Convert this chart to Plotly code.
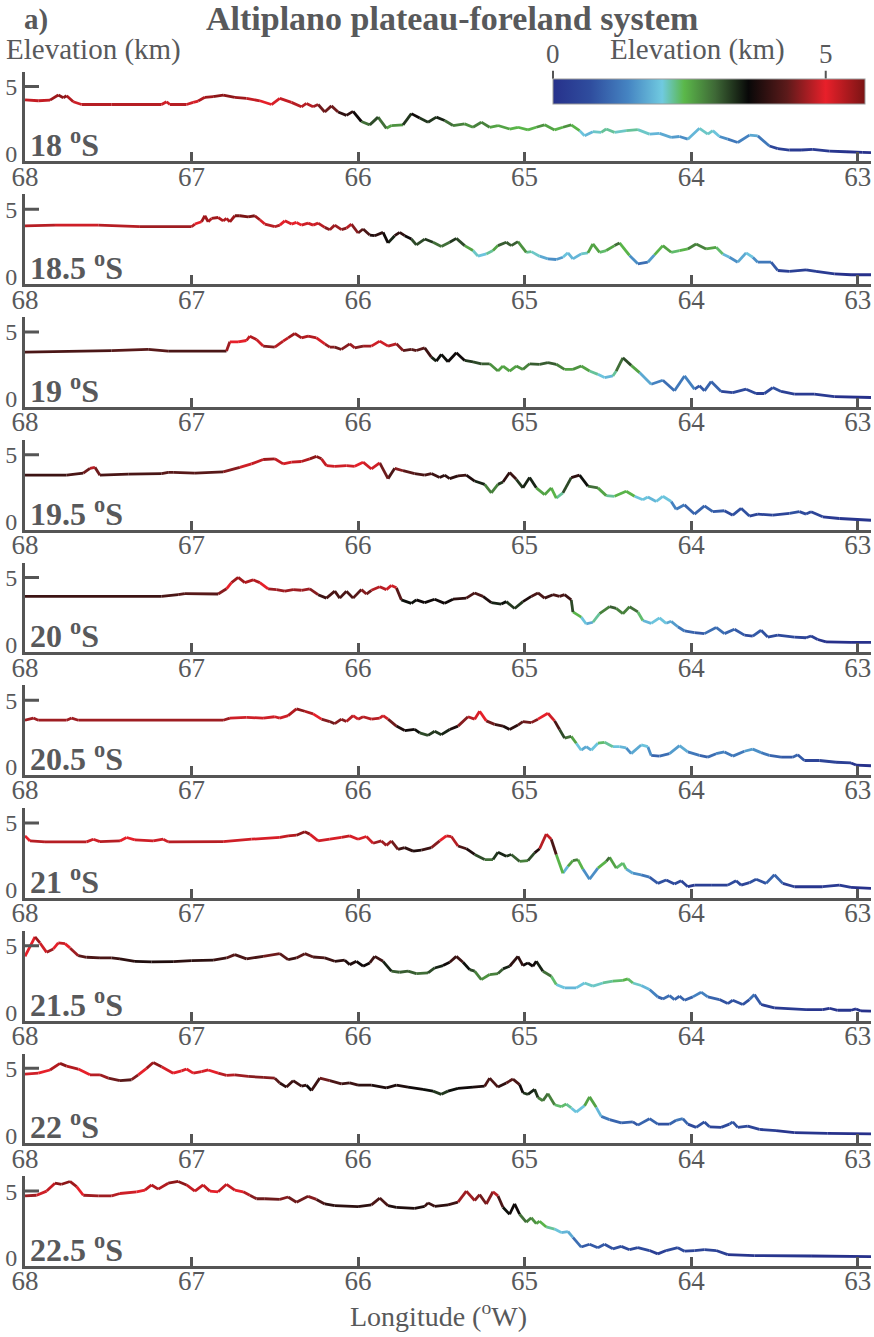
import plotly.graph_objects as go

# ---------------- data (longitude in deg W, elevation in km) ----------------
LATITUDES = ["18", "18.5", "19", "19.5", "20", "20.5", "21", "21.5", "22", "22.5"]
X_TICKS = [68, 67, 66, 65, 64, 63]
Y_TICKS = [0, 5]
CB_TICKS = [0, 5]

lon_18 = [68.00, 67.92, 67.85, 67.80, 67.77, 67.75, 67.71, 67.66, 67.48, 67.18,
          67.15, 67.13, 67.03, 66.99, 66.96, 66.92, 66.87, 66.81, 66.74, 66.67,
          66.59, 66.52, 66.47, 66.40, 66.34, 66.31, 66.27, 66.24, 66.20, 66.16,
          66.12, 66.07, 66.03, 65.98, 65.93, 65.88, 65.83, 65.80, 65.73, 65.68,
          65.63, 65.58, 65.53, 65.48, 65.43, 65.36, 65.31, 65.26, 65.21, 65.16,
          65.09, 65.04, 64.98, 64.93, 64.88, 64.82, 64.77, 64.72, 64.67, 64.64,
          64.59, 64.54, 64.51, 64.46, 64.39, 64.32, 64.25, 64.19, 64.12, 64.07,
          64.02, 63.95, 63.90, 63.87, 63.83, 63.78, 63.72, 63.65, 63.60, 63.53,
          63.48, 63.41, 63.34, 63.27, 63.17, 63.07, 62.97, 62.92]
elev_18 = [4.00, 3.93, 3.98, 4.36, 4.16, 4.31, 3.86, 3.65, 3.65, 3.65,
           3.86, 3.65, 3.65, 3.81, 3.91, 4.19, 4.24, 4.36, 4.19, 4.11,
           3.93, 3.65, 4.11, 3.81, 3.48, 3.73, 3.48, 3.65, 3.09, 3.55,
           3.09, 2.84, 3.14, 2.38, 2.13, 2.71, 1.87, 2.08, 2.13, 2.97,
           2.64, 2.33, 2.71, 2.46, 2.08, 2.20, 1.95, 2.33, 1.95, 2.08,
           1.82, 1.95, 1.75, 1.95, 2.13, 1.75, 1.95, 2.13, 1.70, 1.31,
           1.62, 1.57, 1.82, 1.57, 1.70, 1.77, 1.44, 1.49, 1.19, 1.26,
           1.06, 1.87, 1.44, 1.70, 1.26, 1.06, 0.81, 1.36, 1.31, 0.55,
           0.35, 0.25, 0.25, 0.30, 0.17, 0.12, 0.08, 0.06]

lon_185 = [68.00, 67.82, 67.56, 67.31, 67.00, 66.98, 66.94, 66.92, 66.90, 66.88,
           66.84, 66.81, 66.79, 66.77, 66.74, 66.71, 66.66, 66.62, 66.59, 66.56,
           66.50, 66.47, 66.44, 66.40, 66.37, 66.34, 66.30, 66.27, 66.24, 66.20,
           66.17, 66.14, 66.10, 66.07, 66.04, 66.00, 65.97, 65.93, 65.90, 65.85,
           65.82, 65.78, 65.75, 65.72, 65.68, 65.65, 65.60, 65.55, 65.50, 65.45,
           65.41, 65.36, 65.31, 65.28, 65.23, 65.19, 65.16, 65.11, 65.08, 65.04,
           64.99, 64.96, 64.91, 64.86, 64.81, 64.77, 64.74, 64.71, 64.66, 64.62,
           64.59, 64.55, 64.51, 64.46, 64.43, 64.37, 64.32, 64.26, 64.22, 64.17,
           64.12, 64.07, 64.02, 63.97, 63.91, 63.85, 63.81, 63.77, 63.72, 63.67,
           63.63, 63.60, 63.52, 63.48, 63.41, 63.31, 63.25, 63.14, 63.04, 62.92]
elev_185 = [3.76, 3.81, 3.81, 3.69, 3.69, 3.89, 4.06, 4.51, 4.06, 4.31,
            4.38, 4.13, 4.31, 4.06, 4.51, 4.51, 4.43, 4.51, 4.21, 3.89,
            3.69, 3.81, 4.13, 3.89, 4.01, 3.81, 3.96, 3.81, 3.96, 3.64,
            3.47, 3.81, 3.47, 3.59, 3.89, 3.22, 3.52, 3.07, 3.02, 3.27,
            2.48, 3.02, 3.27, 3.02, 2.77, 2.33, 2.77, 2.53, 2.21, 2.53,
            2.82, 2.28, 1.91, 1.49, 1.66, 1.91, 2.28, 2.53, 2.28, 2.58,
            1.78, 1.83, 1.49, 1.29, 1.24, 1.41, 1.74, 1.29, 1.66, 1.74,
            2.40, 1.78, 1.91, 2.28, 2.48, 1.54, 0.92, 1.04, 1.59, 2.28,
            1.78, 1.91, 2.03, 2.40, 2.03, 2.15, 1.66, 1.41, 1.04, 1.74,
            1.41, 1.04, 1.04, 0.42, 0.35, 0.47, 0.35, 0.17, 0.10, 0.10]

lon_19 = [68.00, 67.48, 67.26, 67.14, 66.79, 66.77, 66.72, 66.67, 66.65, 66.61,
          66.57, 66.50, 66.45, 66.42, 66.38, 66.34, 66.30, 66.25, 66.20, 66.17,
          66.14, 66.10, 66.05, 66.02, 65.97, 65.92, 65.87, 65.82, 65.77, 65.73,
          65.68, 65.65, 65.60, 65.56, 65.53, 65.50, 65.46, 65.41, 65.36, 65.31,
          65.26, 65.21, 65.16, 65.13, 65.09, 65.05, 65.01, 64.97, 64.91, 64.86,
          64.81, 64.76, 64.71, 64.66, 64.61, 64.56, 64.52, 64.47, 64.45, 64.41,
          64.36, 64.31, 64.24, 64.17, 64.10, 64.04, 63.98, 63.95, 63.92, 63.88,
          63.82, 63.75, 63.67, 63.61, 63.56, 63.51, 63.46, 63.38, 63.26, 63.14,
          62.92]
elev_19 = [3.49, 3.61, 3.69, 3.57, 3.57, 4.26, 4.26, 4.36, 4.68, 4.43,
           3.94, 3.86, 4.31, 4.56, 4.88, 4.56, 4.68, 4.56, 4.11, 3.86,
           3.86, 3.69, 4.11, 3.81, 3.94, 3.94, 4.31, 3.94, 4.11, 3.61,
           3.69, 3.61, 3.81, 3.12, 2.82, 3.32, 2.77, 3.44, 2.87, 2.77,
           2.62, 2.62, 2.08, 2.45, 2.08, 2.45, 2.20, 2.62, 2.58, 2.70,
           2.58, 2.20, 2.20, 2.45, 2.08, 1.83, 1.59, 1.71, 2.08, 3.07,
           2.50, 1.96, 1.09, 1.39, 0.60, 1.71, 0.72, 0.97, 0.60, 1.29,
           0.55, 0.47, 0.72, 0.40, 0.40, 0.84, 0.55, 0.35, 0.35, 0.17,
           0.10]

lon_195 = [68.00, 67.75, 67.65, 67.61, 67.58, 67.55, 67.38, 67.18, 67.14, 67.11,
           66.98, 66.81, 66.71, 66.64, 66.57, 66.50, 66.45, 66.40, 66.34, 66.29,
           66.25, 66.22, 66.19, 66.14, 66.07, 66.02, 65.97, 65.92, 65.87, 65.82,
           65.78, 65.73, 65.66, 65.60, 65.56, 65.51, 65.48, 65.45, 65.40, 65.35,
           65.30, 65.24, 65.20, 65.16, 65.13, 65.09, 65.05, 65.01, 64.97, 64.93,
           64.88, 64.84, 64.81, 64.77, 64.72, 64.67, 64.62, 64.56, 64.51, 64.46,
           64.39, 64.34, 64.29, 64.26, 64.21, 64.17, 64.12, 64.09, 64.04, 63.98,
           63.92, 63.87, 63.80, 63.75, 63.70, 63.65, 63.60, 63.51, 63.41, 63.35,
           63.31, 63.28, 63.21, 63.11, 62.92]
elev_195 = [3.47, 3.47, 3.62, 3.98, 4.05, 3.47, 3.54, 3.59, 3.67, 3.67,
            3.62, 3.72, 4.05, 4.31, 4.64, 4.69, 4.31, 4.44, 4.49, 4.69,
            4.87, 4.69, 4.18, 4.13, 4.18, 4.13, 4.44, 3.93, 4.39, 3.21,
            3.98, 3.80, 3.59, 3.47, 3.59, 3.29, 3.47, 3.21, 3.42, 3.47,
            3.03, 2.78, 2.14, 2.78, 2.96, 3.67, 3.16, 2.52, 3.29, 2.52,
            2.01, 2.52, 1.76, 2.14, 3.29, 3.47, 2.65, 2.52, 1.94, 1.89,
            2.27, 1.89, 1.63, 1.84, 1.50, 1.89, 1.50, 0.92, 1.25, 0.56,
            1.17, 0.74, 0.81, 0.48, 0.99, 0.41, 0.56, 0.48, 0.61, 0.74,
            0.56, 0.74, 0.36, 0.23, 0.10]

lon_20 = [68.00, 67.18, 67.08, 67.04, 66.84, 66.79, 66.76, 66.72, 66.68, 66.63,
          66.59, 66.54, 66.49, 66.44, 66.39, 66.34, 66.29, 66.24, 66.19, 66.14,
          66.11, 66.07, 66.03, 65.98, 65.95, 65.92, 65.87, 65.83, 65.80, 65.77,
          65.74, 65.68, 65.65, 65.60, 65.54, 65.48, 65.43, 65.35, 65.30, 65.25,
          65.20, 65.14, 65.11, 65.06, 65.01, 64.96, 64.92, 64.88, 64.83, 64.79,
          64.76, 64.72, 64.71, 64.66, 64.63, 64.59, 64.55, 64.49, 64.45, 64.41,
          64.37, 64.32, 64.29, 64.24, 64.19, 64.15, 64.12, 64.08, 64.04, 63.98,
          63.92, 63.85, 63.80, 63.74, 63.68, 63.63, 63.58, 63.54, 63.48, 63.38,
          63.31, 63.28, 63.24, 63.19, 63.04, 62.92]
elev_20 = [3.58, 3.58, 3.71, 3.79, 3.76, 4.15, 4.61, 5.00, 4.61, 4.82,
           4.61, 4.15, 4.09, 3.97, 4.09, 4.04, 4.15, 3.71, 3.45, 3.97,
           3.45, 3.97, 3.45, 4.09, 3.76, 4.04, 4.30, 4.09, 4.40, 4.22,
           3.32, 3.06, 3.32, 3.12, 3.37, 3.06, 3.37, 3.45, 3.84, 3.58,
           3.12, 3.01, 3.19, 2.68, 3.19, 3.58, 3.84, 3.45, 3.71, 3.58,
           3.71, 3.32, 2.42, 2.03, 1.52, 1.65, 2.29, 2.81, 2.68, 2.29,
           2.81, 2.42, 1.78, 1.57, 1.98, 1.57, 1.72, 1.31, 1.00, 0.87,
           0.80, 1.26, 0.80, 1.13, 0.69, 0.62, 1.05, 0.54, 0.69, 0.54,
           0.49, 0.62, 0.36, 0.18, 0.15, 0.15]

lon_205 = [68.00, 67.95, 67.92, 67.75, 67.72, 67.68, 66.81, 66.77, 66.67, 66.57,
           66.50, 66.47, 66.42, 66.37, 66.32, 66.27, 66.22, 66.17, 66.14, 66.10,
           66.07, 66.03, 66.00, 65.97, 65.92, 65.87, 65.85, 65.82, 65.77, 65.72,
           65.66, 65.63, 65.58, 65.54, 65.50, 65.45, 65.40, 65.34, 65.30, 65.27,
           65.23, 65.18, 65.13, 65.09, 65.04, 65.01, 64.96, 64.92, 64.86, 64.82,
           64.79, 64.76, 64.72, 64.69, 64.66, 64.63, 64.60, 64.56, 64.52, 64.47,
           64.43, 64.39, 64.36, 64.30, 64.26, 64.24, 64.19, 64.13, 64.07, 64.02,
           63.95, 63.90, 63.85, 63.80, 63.75, 63.68, 63.63, 63.58, 63.53, 63.46,
           63.39, 63.36, 63.32, 63.23, 63.13, 63.04, 63.01, 62.92]
elev_205 = [3.50, 3.66, 3.50, 3.50, 3.66, 3.50, 3.50, 3.66, 3.71, 3.66,
            3.76, 3.66, 3.84, 4.35, 4.17, 3.97, 3.58, 3.40, 3.24, 3.58,
            3.40, 3.84, 3.58, 3.76, 3.58, 3.66, 3.84, 3.58, 3.06, 2.73,
            2.81, 2.55, 2.37, 2.68, 2.42, 2.81, 3.06, 3.76, 3.58, 4.17,
            3.45, 3.19, 3.06, 2.81, 3.14, 3.40, 3.32, 3.58, 4.02, 3.45,
            2.81, 2.16, 2.29, 1.78, 1.26, 1.52, 1.26, 1.78, 1.85, 1.52,
            1.52, 1.44, 1.00, 1.65, 1.52, 0.87, 0.82, 1.00, 1.60, 1.13,
            0.87, 0.74, 1.00, 1.13, 0.82, 1.18, 1.34, 1.08, 0.87, 0.74,
            0.74, 0.92, 0.49, 0.49, 0.36, 0.31, 0.15, 0.10]

lon_21 = [68.00, 67.97, 67.88, 67.63, 67.59, 67.55, 67.43, 67.39, 67.34, 67.23,
          67.17, 67.14, 66.81, 66.64, 66.47, 66.42, 66.37, 66.32, 66.29, 66.24,
          66.17, 66.10, 66.05, 66.00, 65.95, 65.91, 65.86, 65.83, 65.80, 65.76,
          65.72, 65.67, 65.62, 65.56, 65.51, 65.47, 65.44, 65.40, 65.35, 65.30,
          65.24, 65.19, 65.16, 65.11, 65.08, 65.03, 64.98, 64.94, 64.91, 64.87,
          64.84, 64.81, 64.77, 64.74, 64.71, 64.68, 64.65, 64.61, 64.56, 64.51,
          64.49, 64.45, 64.41, 64.39, 64.35, 64.30, 64.25, 64.20, 64.15, 64.10,
          64.06, 64.02, 63.98, 63.88, 63.78, 63.73, 63.70, 63.65, 63.61, 63.55,
          63.50, 63.45, 63.38, 63.21, 63.11, 63.04, 62.92]
elev_21 = [4.03, 3.65, 3.58, 3.58, 3.78, 3.60, 3.65, 3.91, 3.73, 3.65,
           3.78, 3.58, 3.60, 3.78, 3.91, 4.03, 4.08, 4.34, 4.16, 3.65,
           3.78, 3.91, 4.03, 3.78, 3.98, 3.48, 3.65, 3.32, 3.65, 3.02,
           3.15, 2.89, 2.97, 3.15, 3.65, 4.03, 3.98, 3.27, 3.07, 2.64,
           2.26, 2.26, 2.81, 2.51, 2.64, 2.13, 2.18, 2.76, 3.07, 4.16,
           3.78, 2.64, 1.24, 1.75, 2.18, 2.26, 1.55, 0.79, 1.62, 2.13,
           2.43, 1.62, 2.00, 1.55, 1.24, 1.12, 0.94, 0.48, 0.73, 0.43,
           0.68, 0.23, 0.35, 0.35, 0.35, 0.68, 0.35, 0.53, 0.79, 0.48,
           1.12, 0.48, 0.23, 0.23, 0.35, 0.18, 0.10]

lon_215 = [68.00, 67.94, 67.91, 67.87, 67.83, 67.80, 67.76, 67.73, 67.68, 67.63,
           67.55, 67.48, 67.43, 67.34, 67.24, 67.11, 67.00, 66.87, 66.79, 66.74,
           66.67, 66.57, 66.47, 66.42, 66.37, 66.32, 66.27, 66.20, 66.14, 66.08,
           66.05, 66.01, 65.97, 65.93, 65.90, 65.85, 65.80, 65.75, 65.70, 65.65,
           65.58, 65.54, 65.49, 65.45, 65.41, 65.37, 65.33, 65.30, 65.26, 65.21,
           65.16, 65.13, 65.09, 65.04, 65.01, 64.98, 64.95, 64.93, 64.89, 64.84,
           64.81, 64.76, 64.69, 64.64, 64.59, 64.53, 64.47, 64.41, 64.38, 64.35,
           64.30, 64.25, 64.20, 64.17, 64.13, 64.10, 64.07, 64.04, 63.99, 63.94,
           63.90, 63.83, 63.78, 63.75, 63.69, 63.65, 63.62, 63.58, 63.50, 63.31,
           63.21, 63.17, 63.12, 63.04, 63.01, 62.98, 62.92]
elev_215 = [4.20, 5.65, 5.20, 4.50, 4.75, 5.20, 5.15, 4.83, 4.25, 4.13,
            4.08, 4.08, 4.01, 3.83, 3.78, 3.81, 3.88, 3.91, 4.08, 4.33,
            4.01, 4.20, 4.40, 3.96, 4.08, 4.40, 4.15, 4.08, 3.83, 3.91,
            3.58, 3.83, 3.46, 3.71, 4.20, 3.83, 3.09, 3.01, 3.09, 2.91,
            2.96, 3.33, 3.51, 3.76, 4.20, 3.76, 3.21, 3.09, 2.46, 2.84,
            2.91, 3.26, 3.46, 4.20, 3.51, 3.71, 3.46, 3.83, 3.09, 2.71,
            2.09, 1.84, 1.84, 2.21, 1.97, 2.21, 2.34, 2.41, 2.51, 2.21,
            2.02, 1.72, 1.17, 1.02, 1.27, 0.97, 1.22, 0.92, 1.17, 1.52,
            1.17, 0.97, 0.67, 0.92, 0.60, 0.97, 1.34, 0.60, 0.35, 0.22,
            0.22, 0.32, 0.17, 0.17, 0.27, 0.12, 0.10]

lon_22 = [68.00, 67.92, 67.85, 67.79, 67.75, 67.68, 67.61, 67.55, 67.50, 67.43,
          67.36, 67.32, 67.27, 67.23, 67.18, 67.11, 67.06, 67.03, 66.99, 66.94,
          66.90, 66.84, 66.79, 66.74, 66.66, 66.57, 66.50, 66.47, 66.43, 66.39,
          66.34, 66.31, 66.28, 66.23, 66.17, 66.10, 66.05, 66.00, 65.92, 65.83,
          65.77, 65.70, 65.61, 65.55, 65.50, 65.46, 65.40, 65.31, 65.24, 65.21,
          65.16, 65.11, 65.07, 65.03, 65.01, 64.98, 64.94, 64.92, 64.89, 64.86,
          64.82, 64.78, 64.75, 64.72, 64.69, 64.64, 64.61, 64.57, 64.54, 64.49,
          64.42, 64.35, 64.32, 64.25, 64.20, 64.13, 64.09, 64.05, 64.02, 63.97,
          63.92, 63.89, 63.82, 63.77, 63.75, 63.72, 63.66, 63.59, 63.49, 63.38,
          63.18, 62.92]
elev_22 = [4.57, 4.64, 4.88, 5.37, 5.17, 4.95, 4.52, 4.52, 4.27, 4.08,
           4.15, 4.52, 5.00, 5.44, 5.12, 4.64, 4.81, 4.95, 4.64, 4.76,
           4.88, 4.64, 4.47, 4.52, 4.40, 4.32, 4.27, 3.91, 3.60, 4.08,
           3.67, 3.74, 3.35, 4.27, 4.08, 3.84, 3.91, 3.74, 3.74, 3.55,
           3.74, 3.60, 3.43, 3.30, 3.06, 3.30, 3.50, 3.60, 3.67, 4.27,
           3.60, 3.91, 4.20, 3.79, 3.18, 3.06, 3.43, 2.82, 2.58, 3.11,
           2.28, 2.14, 2.33, 2.04, 1.73, 2.21, 2.87, 2.09, 1.41, 1.17,
           0.93, 1.00, 0.76, 1.24, 0.83, 0.83, 1.12, 1.24, 0.83, 0.59,
           1.00, 0.63, 0.59, 0.83, 1.00, 0.59, 0.68, 0.44, 0.34, 0.20,
           0.15, 0.10]

lon_225 = [68.00, 67.93, 67.87, 67.82, 67.78, 67.73, 67.69, 67.65, 67.56, 67.48,
           67.43, 67.33, 67.28, 67.24, 67.20, 67.14, 67.08, 67.03, 66.98, 66.93,
           66.89, 66.84, 66.79, 66.74, 66.69, 66.65, 66.61, 66.56, 66.47, 66.42,
           66.37, 66.30, 66.25, 66.20, 66.14, 66.00, 65.92, 65.87, 65.82, 65.77,
           65.66, 65.60, 65.58, 65.54, 65.46, 65.40, 65.35, 65.30, 65.27, 65.23,
           65.19, 65.16, 65.13, 65.09, 65.06, 65.03, 64.99, 64.96, 64.93, 64.91,
           64.87, 64.82, 64.78, 64.74, 64.71, 64.66, 64.61, 64.56, 64.52, 64.47,
           64.42, 64.37, 64.32, 64.25, 64.20, 64.15, 64.08, 64.04, 63.98, 63.92,
           63.85, 63.78, 63.62, 63.28, 62.92]
elev_225 = [4.64, 4.69, 5.00, 5.59, 5.51, 5.72, 5.33, 4.69, 4.64, 4.64,
            4.82, 4.95, 5.07, 5.46, 5.15, 5.59, 5.72, 5.46, 5.00, 5.46,
            5.00, 4.95, 5.51, 5.07, 4.95, 4.69, 4.43, 4.43, 4.38, 4.56,
            4.17, 4.61, 4.38, 4.04, 3.91, 3.84, 3.97, 4.48, 3.91, 3.79,
            3.71, 3.86, 4.12, 3.86, 3.97, 4.17, 5.00, 4.30, 4.74, 4.04,
            4.95, 4.64, 3.79, 3.27, 4.04, 3.27, 2.68, 3.01, 2.57, 2.75,
            2.32, 2.16, 1.90, 1.98, 1.54, 0.82, 1.03, 0.77, 1.03, 0.69,
            0.87, 0.62, 0.77, 0.56, 0.31, 0.56, 0.77, 0.51, 0.56, 0.62,
            0.56, 0.25, 0.18, 0.15, 0.10]

PROFILES = [(lon_18, elev_18), (lon_185, elev_185), (lon_19, elev_19), (lon_195, elev_195),
            (lon_20, elev_20), (lon_205, elev_205), (lon_21, elev_21), (lon_215, elev_215),
            (lon_22, elev_22), (lon_225, elev_225)]

CB_MAX = 5.72

# ---------------- styling ----------------
W, H = 874, 1337
ML, MR = 25, 3
PW = W - ML - MR
FONT = "Liberation Serif"
TXT = "#58595b"
AX = "#555555"

STOPS = [(0.00, "#27318b"), (0.12, "#2f4d9e"), (0.24, "#4584c2"), (0.35, "#70cae0"),
         (0.42, "#5bb84a"), (0.52, "#3e6836"), (0.626, "#080808"), (0.75, "#5c1a1a"),
         (0.874, "#e8202a"), (1.00, "#7a1414")]


def hex2rgb(h):
    h = h.lstrip("#")
    return tuple(int(h[i:i + 2], 16) for i in (0, 2, 4))


def cmap(t):
    t = min(max(t, 0.0), 1.0)
    for (p0, c0), (p1, c1) in zip(STOPS[:-1], STOPS[1:]):
        if t <= p1:
            f = 0 if p1 == p0 else (t - p0) / (p1 - p0)
            a, b = hex2rgb(c0), hex2rgb(c1)
            return "rgb(%d,%d,%d)" % tuple(round(a[k] + f * (b[k] - a[k])) for k in range(3))
    return STOPS[-1][1]


NB = 48
fig = go.Figure()
layout = {}
annotations = []
shapes = []

for i, (lon, elev) in enumerate(PROFILES):
    n = i + 1
    xa = "x" if n == 1 else f"x{n}"
    ya = "y" if n == 1 else f"y{n}"
    mn, mx = min(elev), max(elev)
    groups = {}
    for j in range(len(lon) - 1):
        t = ((elev[j] + elev[j + 1]) / 2 - mn) / (mx - mn)
        b = int(round(t * (NB - 1)))
        gx, gy = groups.setdefault(b, ([], []))
        gx += [lon[j], lon[j + 1], None]
        gy += [elev[j], elev[j + 1], None]
    for b, (gx, gy) in sorted(groups.items()):
        fig.add_trace(go.Scatter(x=gx, y=gy, mode="lines",
                                 line=dict(color=cmap(b / (NB - 1)), width=2.8),
                                 xaxis=xa, yaxis=ya, showlegend=False, hoverinfo="skip"))

    top_px = 72 + 123.2 * i
    bot_px = 162 + 123.2 * i
    dom = [1 - bot_px / H, 1 - top_px / H]
    layout["xaxis" if n == 1 else f"xaxis{n}"] = dict(
        domain=[0, 1], range=[68, 62.92], anchor=ya,
        tickvals=X_TICKS, ticktext=[str(v) for v in X_TICKS],
        ticks="inside", ticklen=9, tickwidth=2.5, tickcolor=AX, ticklabelstandoff=-11,
        showline=True, linewidth=3, linecolor=AX, showgrid=False, zeroline=False,
        tickfont=dict(family=FONT, size=27, color=TXT))
    layout["yaxis" if n == 1 else f"yaxis{n}"] = dict(
        domain=dom, range=[-0.6, 6.1], anchor=xa,
        tickvals=Y_TICKS, ticktext=[str(v) for v in Y_TICKS], ticks="",
        showline=True, linewidth=3, linecolor=AX, showgrid=False, zeroline=False,
        tickfont=dict(family=FONT, size=24, color=TXT))
    # inward tick at 5 km
    shapes.append(dict(type="line", xref=f"{xa} domain", yref=ya, x0=0, x1=14 / PW,
                       y0=Y_TICKS[1], y1=Y_TICKS[1], line=dict(color=AX, width=3)))
    annotations.append(dict(text=f"<b>{LATITUDES[i]} <sup>o</sup>S</b>",
                            xref=f"{xa} domain", yref=f"{ya} domain", x=0.004, y=0,
                            xanchor="left", yanchor="bottom", yshift=-4, showarrow=False,
                            font=dict(family=FONT, size=32, color=TXT)))

# colorbar
cb_x = (553 - ML) / PW
cb_len = 312
cb_y = 1 - 79 / H
plotly_cs = [[p, c] for p, c in STOPS]
fig.add_trace(go.Scatter(x=[None], y=[None], mode="markers", showlegend=False, hoverinfo="skip",
                         marker=dict(color=[0], colorscale=plotly_cs, cmin=0, cmax=CB_MAX,
                                     showscale=True,
                                     colorbar=dict(orientation="h", x=cb_x, xanchor="left",
                                                   y=cb_y, yanchor="top", len=cb_len,
                                                   lenmode="pixels", thickness=25,
                                                   thicknessmode="pixels", xpad=0, ypad=0,
                                                   outlinewidth=1, outlinecolor="#999999",
                                                   showticklabels=False, ticks="")),
                         xaxis="x", yaxis="y"))
for v in CB_TICKS:
    xp = cb_x + v / CB_MAX * cb_len / PW
    shapes.append(dict(type="line", xref="paper", yref="paper", x0=xp, x1=xp,
                       y0=cb_y, y1=cb_y + 8 / H, line=dict(color=AX, width=2)))
    annotations.append(dict(text=str(v), xref="paper", yref="paper", x=xp, y=cb_y + 8 / H,
                            xanchor="center", yanchor="bottom", showarrow=False,
                            font=dict(family=FONT, size=27, color=TXT)))
annotations.append(dict(text="Elevation (km)", xref="paper", yref="paper",
                        x=(697 - ML) / PW, y=cb_y + 11 / H, xanchor="center", yanchor="bottom",
                        showarrow=False, font=dict(family=FONT, size=29, color=TXT)))

# titles
annotations += [
    dict(text="<b>Altiplano plateau-foreland system</b>", xref="paper", yref="paper",
         x=(452 - ML) / PW, y=1 - 19 / H, xanchor="center", yanchor="middle", showarrow=False,
         font=dict(family=FONT, size=34, color=TXT)),
    dict(text="<b>a)</b>", xref="paper", yref="paper", x=(22 - ML) / PW, y=1 - 20 / H,
         xanchor="left", yanchor="middle", showarrow=False,
         font=dict(family=FONT, size=29, color=TXT)),
    dict(text="Elevation (km)", xref="paper", yref="paper", x=(4 - ML) / PW, y=1 - 50 / H,
         xanchor="left", yanchor="middle", showarrow=False,
         font=dict(family=FONT, size=29, color=TXT)),
    dict(text="Longitude (<sup>o</sup>W)", xref="paper", yref="paper", x=(438 - ML) / PW,
         y=1 - 1319 / H, xanchor="center", yanchor="middle", showarrow=False,
         font=dict(family=FONT, size=28, color=TXT)),
]

fig.update_layout(width=W, height=H, margin=dict(l=ML, r=MR, t=0, b=0),
                  paper_bgcolor="white", plot_bgcolor="white",
                  annotations=annotations, shapes=shapes, **layout)
fig.write_html("out.html")
